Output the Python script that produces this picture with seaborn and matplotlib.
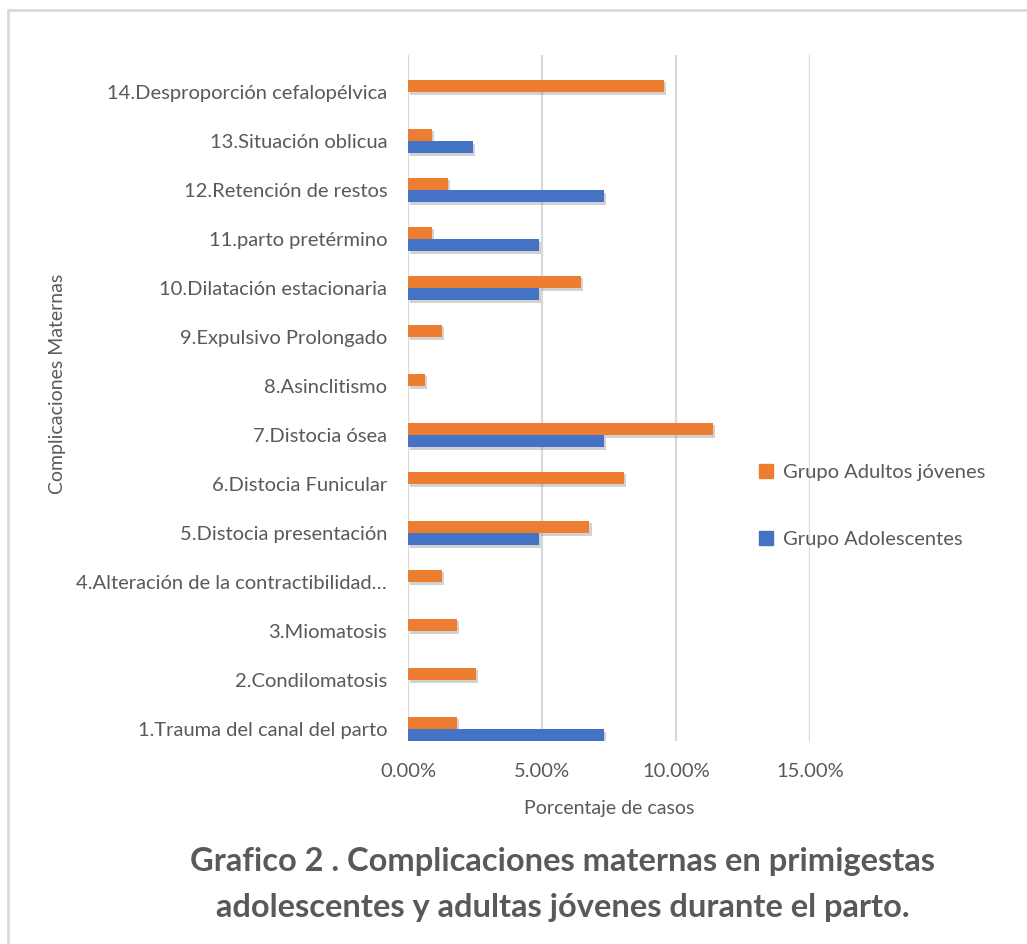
import matplotlib
matplotlib.use("Agg")
import matplotlib.pyplot as plt
import matplotlib.patheffects as pe
from matplotlib.lines import Line2D
from matplotlib.ticker import FuncFormatter
import seaborn as sns
import pandas as pd

categories = [
    "14.Desproporción cefalopélvica",
    "13.Situación oblicua",
    "12.Retención de restos",
    "11.parto pretérmino",
    "10.Dilatación estacionaria",
    "9.Expulsivo Prolongado",
    "8.Asinclitismo",
    "7.Distocia ósea",
    "6.Distocia Funicular",
    "5.Distocia presentación",
    "4.Alteración de la contractibilidad…",
    "3.Miomatosis",
    "2.Condilomatosis",
    "1.Trauma del canal del parto",
]
adultos = [9.55, 0.91, 1.49, 0.91, 6.44, 1.27, 0.62, 11.37, 8.05, 6.77, 1.27, 1.82, 2.55, 1.82]
adolescentes = [0.0, 2.44, 7.32, 4.88, 4.88, 0.0, 0.0, 7.32, 0.0, 4.88, 0.0, 0.0, 0.0, 7.32]
series_names = ["Grupo Adultos jóvenes", "Grupo Adolescentes"]
colors = ["#ED7D31", "#4472C4"]

df = pd.DataFrame({
    "Complicación": categories * 2,
    "Grupo": [series_names[0]] * len(categories) + [series_names[1]] * len(categories),
    "Valor": adultos + adolescentes,
})

sns.set_theme(style="white")
plt.rcParams["font.family"] = ["Lato", "DejaVu Sans"]
txt = "#595959"

fig = plt.figure(figsize=(10.27, 9.44), dpi=100)
ax = fig.add_axes([408 / 1027, 1 - 741 / 944, (810 - 408) / 1027, (741 - 55) / 944])

sns.barplot(data=df, y="Complicación", x="Valor", hue="Grupo", order=categories,
            hue_order=series_names, palette=colors, width=0.51, orient="h",
            linewidth=0, saturation=1, ax=ax, legend=False)

shadow = [pe.SimplePatchShadow(offset=(1.5, -2), shadow_rgbFace="#808080", alpha=0.35), pe.Normal()]
for p in ax.patches:
    p.set_path_effects(shadow)

ax.set_xlim(0, 15)
ax.set_ylim(13.245, -0.755)
ax.set_xticks([0, 5, 10, 15])
ax.xaxis.set_major_formatter(FuncFormatter(lambda v, _: f"{v:.2f}%"))
ax.grid(axis="x", color="#D9D9D9", linewidth=1.6)
ax.set_axisbelow(True)
for s in ax.spines.values():
    s.set_visible(False)
ax.tick_params(axis="both", length=0, colors=txt, labelsize=14.5)
ax.tick_params(axis="y", pad=15)
ax.tick_params(axis="x", pad=16)
ax.set_xlabel("Porcentaje de casos", fontsize=14, color=txt, labelpad=14)
ax.set_ylabel("")
fig.text(57 / 1027, 1 - 384 / 944, "Complicaciones Maternas", rotation=90,
         ha="center", va="center", fontsize=14, color=txt)

handles = [plt.Rectangle((0, 0), 1, 1, color=c) for c in colors]
fig.legend(handles, series_names, loc="center left",
           bbox_to_anchor=(741 / 1027, 1 - 506 / 944), frameon=False,
           fontsize=14.5, labelcolor=txt, handlelength=0.7, handleheight=0.7,
           handletextpad=0.5, labelspacing=2.5)

fig.text(563 / 1027, 1 - 862 / 944, "Grafico 2 . Complicaciones maternas en primigestas",
         ha="center", va="center", fontsize=23.5, fontweight="bold", color=txt)
fig.text(563 / 1027, 1 - 908 / 944, "adolescentes y adultas jóvenes durante el parto.",
         ha="center", va="center", fontsize=23.5, fontweight="bold", color=txt)

fig.add_artist(Line2D([8 / 1027, 8 / 1027], [0, 1 - 10 / 944], transform=fig.transFigure,
                      color="#D9D9D9", linewidth=2))
fig.add_artist(Line2D([8 / 1027, 1], [1 - 10 / 944, 1 - 10 / 944], transform=fig.transFigure,
                      color="#D9D9D9", linewidth=2))

fig.savefig("out.png", dpi=100, facecolor="white")
